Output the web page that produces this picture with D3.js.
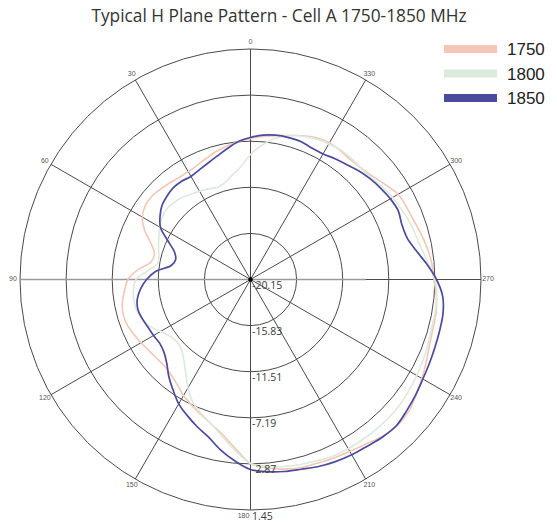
<!DOCTYPE html>
<html><head><meta charset="utf-8">
<script src="https://cdn.jsdelivr.net/npm/d3@7/dist/d3.min.js"></script>
<style>body{margin:0;background:#fff}svg{display:block}</style>
</head><body>
<svg id="chart" width="557" height="524"></svg>
<script>
// ---- data ----
const titleText = "Typical H Plane Pattern - Cell A 1750-1850 MHz";
const angles = [0,5,10,15,20,25,30,35,40,45,50,55,60,65,70,75,80,85,90,95,100,105,110,115,120,125,130,135,140,145,150,155,160,165,170,175,180,185,190,195,200,205,210,215,220,225,230,235,240,245,250,255,260,265,270,275,280,285,290,295,300,305,310,315,320,325,330,335,340,345,350,355];
const series1750 = [-6.94,-7.17,-7.45,-7.73,-8.06,-8.34,-8.48,-8.48,-8.34,-8.20,-8.06,-8.11,-8.44,-9.19,-10.22,-10.83,-10.69,-9.56,-8.67,-8.30,-7.97,-7.78,-7.83,-8.06,-8.30,-8.53,-8.67,-8.72,-8.53,-8.16,-7.59,-7.13,-6.66,-6.10,-5.35,-4.22,-2.91,-2.44,-2.11,-1.91,-1.83,-1.69,-1.55,-1.32,-0.94,-0.75,-0.85,-1.22,-1.60,-1.97,-2.30,-2.44,-2.49,-2.67,-2.96,-3.10,-3.33,-3.61,-3.89,-4.03,-4.17,-4.69,-5.16,-5.44,-5.53,-5.44,-5.35,-5.49,-5.81,-6.19,-6.47,-6.70];
const series1800 = [-8.44,-9.56,-10.22,-10.78,-10.97,-10.78,-10.59,-10.41,-10.12,-9.98,-9.89,-10.03,-10.31,-10.69,-10.97,-11.25,-11.34,-10.50,-9.42,-9.14,-9.05,-9.09,-9.37,-9.75,-10.41,-10.92,-11.11,-10.97,-10.41,-9.56,-8.44,-7.41,-6.75,-6.10,-5.16,-4.03,-2.91,-2.58,-2.35,-2.21,-2.07,-1.88,-1.83,-1.85,-1.83,-1.82,-1.88,-2.02,-2.16,-2.30,-2.44,-2.58,-2.58,-2.63,-2.86,-3.42,-3.85,-4.13,-4.31,-4.55,-4.78,-5.06,-5.35,-5.44,-5.39,-5.35,-5.49,-5.63,-5.86,-6.19,-6.70,-7.50];
const series1850 = [-6.84,-7.17,-7.69,-8.16,-8.53,-8.81,-9.00,-8.91,-8.91,-9.09,-9.33,-9.80,-10.41,-11.62,-12.56,-12.89,-12.61,-11.25,-10.41,-9.80,-9.37,-9.23,-9.37,-9.56,-9.66,-9.75,-9.56,-9.05,-8.25,-7.50,-6.70,-6.10,-5.49,-4.88,-3.94,-3.10,-2.35,-2.07,-1.88,-1.74,-1.50,-1.32,-1.18,-1.08,-0.89,-0.80,-1.04,-1.27,-1.50,-1.64,-1.74,-1.79,-1.83,-2.07,-2.72,-3.57,-4.41,-4.97,-5.06,-4.88,-5.02,-5.25,-5.49,-5.77,-6.10,-6.33,-6.56,-6.56,-6.38,-6.38,-6.42,-6.56];
const seriesNames = ["1750","1800","1850"];
const seriesColors = ["#f4c6b5","#dbeadb","#4a4b9c"];
const ringTicks = [-20.15,-15.83,-11.51,-7.19,-2.87,1.45];
const angleTicks = [0,30,60,90,120,150,180,210,240,270,300,330];

// ---- layout ----
const svg = d3.select("#chart");
const cx = 250.5, cy = 279.5, R = 230.5;
const rScale = d3.scaleLinear().domain([ringTicks[0], ringTicks[ringTicks.length-1]]).range([0, R]);
const toRad = d => -d * Math.PI / 180; // counter-clockwise from top

svg.append("text").attr("x", 279).attr("y", 22).attr("text-anchor","middle")
  .attr("font-family","'Open Sans', 'Noto Sans', sans-serif").attr("font-size", 17.3)
  .attr("fill","#333").text(titleText);

const g = svg.append("g").attr("transform", `translate(${cx},${cy})`);

// rings
g.selectAll("circle.ring").data(ringTicks.slice(1)).join("circle")
  .attr("class","ring").attr("r", d => rScale(d))
  .attr("fill","none").attr("stroke","#4a4a4a").attr("stroke-width",1);

// spokes
g.selectAll("line.spoke").data(angleTicks).join("line")
  .attr("class","spoke")
  .attr("x1",0).attr("y1",0)
  .attr("x2", d => R * Math.sin(toRad(d))).attr("y2", d => -R * Math.cos(toRad(d)))
  .attr("stroke","#4a4a4a").attr("stroke-width",1);

// grey horizontal axis line
g.append("line").attr("x1",-R).attr("x2",R/2).attr("y1",0).attr("y2",0)
  .attr("stroke","#9a9a9a").attr("stroke-width",1.6);

// angle labels
g.selectAll("text.ang").data(angleTicks).join("text")
  .attr("class","ang")
  .attr("x", d => (R+7) * Math.sin(toRad(d)) - (d===180?7:0))
  .attr("y", d => -(R+7) * Math.cos(toRad(d)) + (d===180?-1:0))
  .attr("text-anchor","middle").attr("dominant-baseline","middle")
  .attr("font-family","'Liberation Sans', Arial, sans-serif").attr("font-size",7)
  .attr("fill","#555").text(d => d);

// series
const line = d3.lineRadial()
  .angle(d => toRad(d[0]))
  .radius(d => rScale(d[1]))
  .curve(d3.curveCatmullRomClosed.alpha(0.5));
const allSeries = [series1750, series1800, series1850];
const widths = [1.6, 1.6, 1.7];
allSeries.forEach((s, i) => {
  g.append("path")
    .attr("d", line(angles.map((a, j) => [a, s[j]])))
    .attr("fill","none").attr("stroke", seriesColors[i]).attr("stroke-width", widths[i]);
});

// centre dot
g.append("circle").attr("r",2.2).attr("fill","#000");

// ring labels
g.selectAll("text.rl").data(ringTicks).join("text")
  .attr("class","rl")
  .attr("x", 1.5).attr("y", d => rScale(d) + 9.5)
  .attr("font-family","'Open Sans', 'Noto Sans', sans-serif").attr("font-size",10.5)
  .attr("fill","#3a3a3a").text(d => d.toFixed(2));

// legend
const leg = svg.append("g").attr("transform","translate(444,49)");
seriesNames.forEach((n, i) => {
  leg.append("rect").attr("x",0).attr("y", i*24.5 - 4).attr("width",53).attr("height",8)
    .attr("fill", seriesColors[i]);
  leg.append("text").attr("x",63).attr("y", i*24.5 + 6)
    .attr("font-family","'Liberation Sans Narrow','Liberation Sans', Arial, sans-serif").attr("font-size",17)
    .attr("fill","#222").text(n);
});
</script>
</body></html>
